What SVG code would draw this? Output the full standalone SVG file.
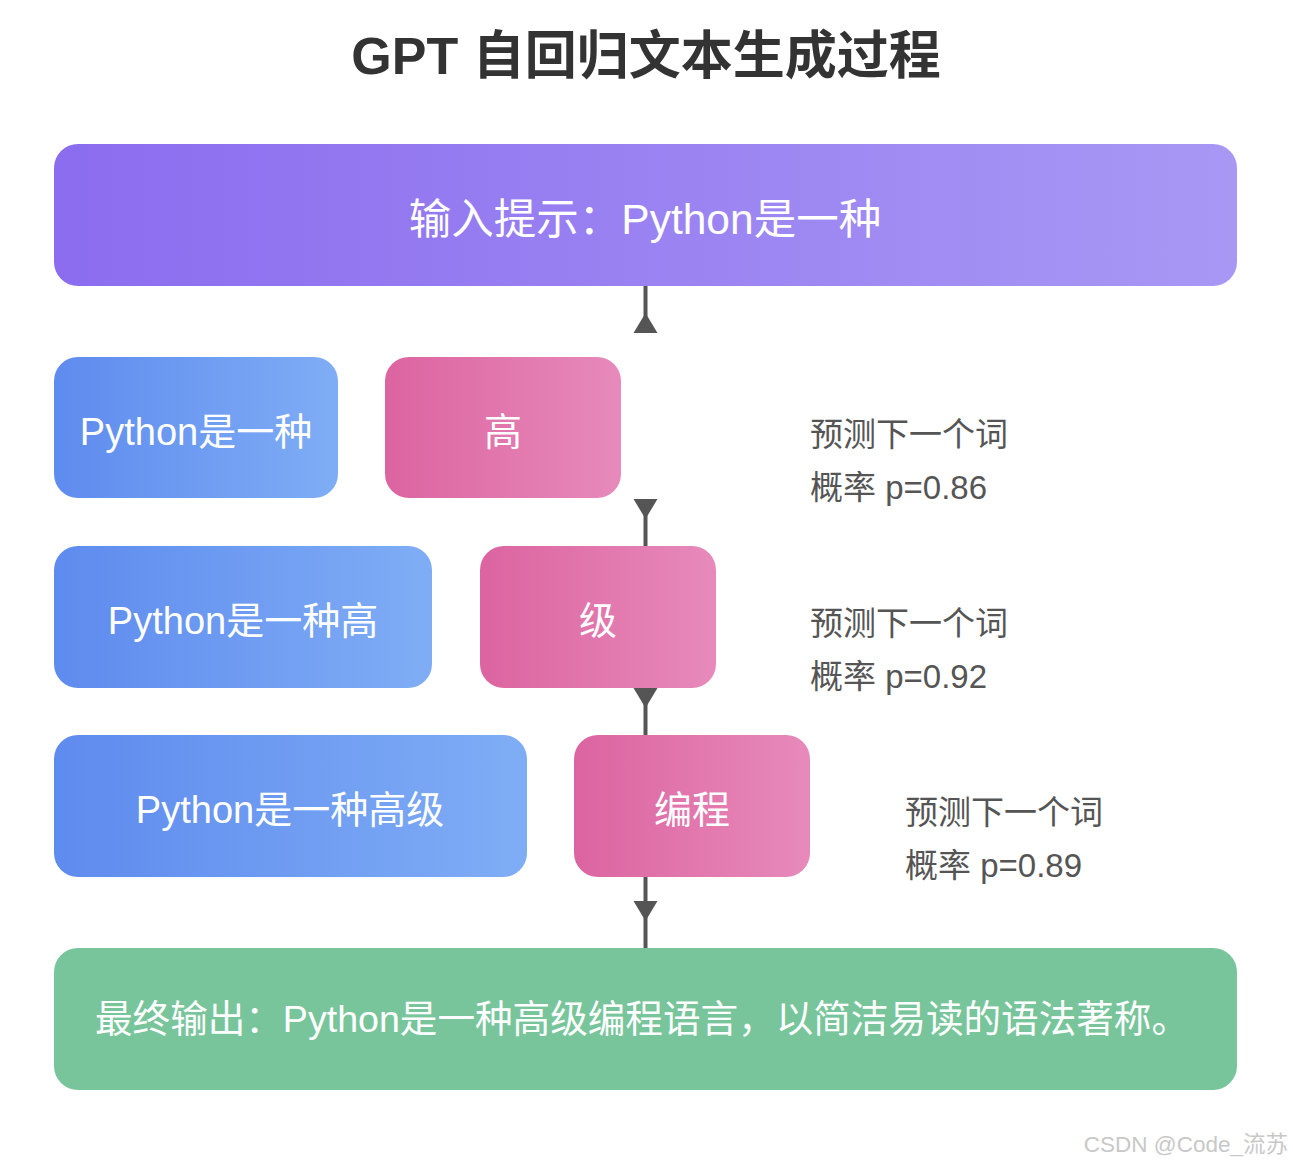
<svg xmlns="http://www.w3.org/2000/svg" width="1293" height="1166" viewBox="0 0 1293 1166">
<defs>
<linearGradient id="gPurple" x1="0" y1="0" x2="1" y2="0"><stop offset="0" stop-color="#8B6CEF"/><stop offset="1" stop-color="#A898F4"/></linearGradient>
<linearGradient id="gBlue" x1="0" y1="0" x2="1" y2="0"><stop offset="0" stop-color="#5E8BEE"/><stop offset="1" stop-color="#7FADF5"/></linearGradient>
<linearGradient id="gPink" x1="0" y1="0" x2="1" y2="0"><stop offset="0" stop-color="#DC64A0"/><stop offset="1" stop-color="#E78ABB"/></linearGradient>
<style>
.box{stroke:none}
.t{font-family:"Liberation Sans","Noto Sans CJK SC",sans-serif;fill:#ffffff;text-anchor:middle}
.side{font-family:"Liberation Sans","Noto Sans CJK SC",sans-serif;fill:#555555;font-size:33px}
.ln{stroke:#555555;stroke-width:4;fill:none}
.ah{fill:#555555}
</style>
</defs>
<rect width="1293" height="1166" fill="#ffffff"/>
<text x="646" y="74" font-family="Liberation Sans, Noto Sans CJK SC, sans-serif" font-weight="bold" font-size="52" fill="#333333" text-anchor="middle">GPT 自回归文本生成过程</text>

<g id="connectors">
<line class="ln" x1="645.5" y1="286" x2="645.5" y2="330"/>
<polygon class="ah" points="645.5,313 633.5,333 657.5,333"/>
<line class="ln" x1="645.5" y1="512" x2="645.5" y2="546"/>
<polygon class="ah" points="633.5,499 657.5,499 645.5,519"/>
<line class="ln" x1="645.5" y1="700" x2="645.5" y2="735"/>
<polygon class="ah" points="633.5,688 657.5,688 645.5,708"/>
<line class="ln" x1="645.5" y1="877" x2="645.5" y2="948"/>
<polygon class="ah" points="633.5,901 657.5,901 645.5,921"/>
</g>

<g id="input">
<rect class="box" x="54" y="144" width="1183" height="142" rx="24" fill="url(#gPurple)"/>
<text class="t" x="645" y="234" font-size="42.5">输入提示：Python是一种</text>
</g>

<g id="ctx1">
<rect class="box" x="54" y="357" width="284" height="141" rx="24" fill="url(#gBlue)"/>
<text class="t" x="196" y="445" font-size="38">Python是一种</text>
</g>
<g id="tok1">
<rect class="box" x="385" y="357" width="236" height="141" rx="24" fill="url(#gPink)"/>
<text class="t" x="503" y="445" font-size="38">高</text>
</g>
<g id="prob1">
<text class="side" x="810" y="446">预测下一个词</text>
<text class="side" x="810" y="499">概率 p=0.86</text>
</g>

<g id="ctx2">
<rect class="box" x="54" y="546" width="378" height="142" rx="24" fill="url(#gBlue)"/>
<text class="t" x="243" y="634" font-size="38">Python是一种高</text>
</g>
<g id="tok2">
<rect class="box" x="480" y="546" width="236" height="142" rx="24" fill="url(#gPink)"/>
<text class="t" x="598" y="634" font-size="38">级</text>
</g>
<g id="prob2">
<text class="side" x="810" y="635">预测下一个词</text>
<text class="side" x="810" y="688">概率 p=0.92</text>
</g>

<g id="ctx3">
<rect class="box" x="54" y="735" width="473" height="142" rx="24" fill="url(#gBlue)"/>
<text class="t" x="290" y="823" font-size="38">Python是一种高级</text>
</g>
<g id="tok3">
<rect class="box" x="574" y="735" width="236" height="142" rx="24" fill="url(#gPink)"/>
<text class="t" x="692" y="823" font-size="38">编程</text>
</g>
<g id="prob3">
<text class="side" x="905" y="824">预测下一个词</text>
<text class="side" x="905" y="877">概率 p=0.89</text>
</g>

<g id="output">
<rect class="box" x="54" y="948" width="1183" height="142" rx="24" fill="#78C59C"/>
<text class="t" x="642" y="1032" font-size="37.6">最终输出：Python是一种高级编程语言，以简洁易读的语法著称。</text>
</g>

<text x="1288" y="1152" font-family="Liberation Sans, Noto Sans CJK SC, sans-serif" font-size="22.5" fill="#c8c8c8" text-anchor="end">CSDN @Code_流苏</text>
</svg>
